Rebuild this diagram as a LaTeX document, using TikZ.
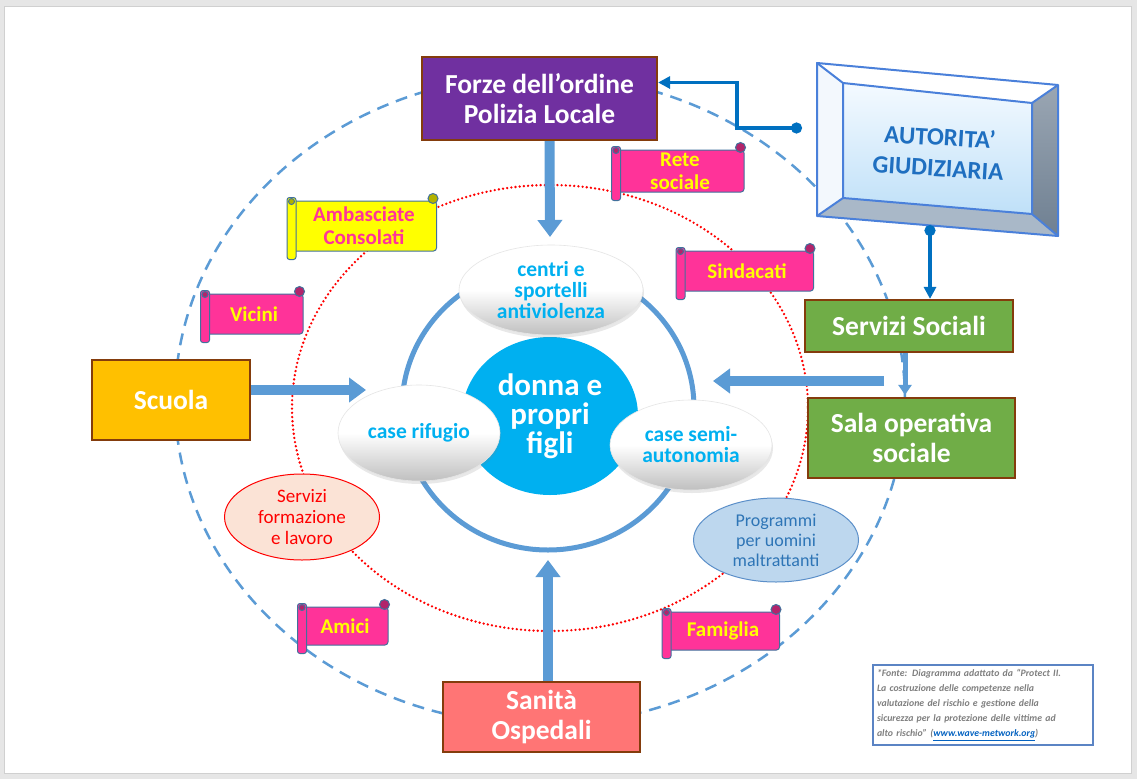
\documentclass[tikz,border=0pt]{standalone}
\usepackage{fontspec}
\setmainfont{Carlito}
\usetikzlibrary{arrows.meta,calc,shapes.geometric,shadows}

\definecolor{pagegray}{HTML}{E6E6E6}
\definecolor{pageline}{HTML}{D0D0D0}
\definecolor{dashblue}{HTML}{5B9BD5}
\definecolor{ringblue}{HTML}{5B9BD5}
\definecolor{cyanc}{HTML}{00B0F0}
\definecolor{purplec}{HTML}{7030A0}
\definecolor{brownc}{HTML}{843C0C}
\definecolor{orangec}{HTML}{FFC000}
\definecolor{greenc}{HTML}{70AD47}
\definecolor{salmonc}{HTML}{FF7575}
\definecolor{pinkc}{HTML}{FF3399}
\definecolor{yellowc}{HTML}{FFFF00}
\definecolor{scrollline}{HTML}{41719C}
\definecolor{connblue}{HTML}{0070C0}
\definecolor{autline}{HTML}{4A80DA}
\definecolor{auttext}{HTML}{1F6FC0}
\definecolor{peach}{HTML}{FBE3D6}
\definecolor{lightblue}{HTML}{BDD7EE}
\definecolor{progline}{HTML}{5B8FC9}
\definecolor{progtext}{HTML}{2E75B6}
\definecolor{notegray}{HTML}{7F7F7F}
\definecolor{linkblue}{HTML}{0563C1}
\definecolor{noteline}{HTML}{5B84C4}
\definecolor{facegrayA}{HTML}{9AA6B3}
\definecolor{facegrayB}{HTML}{6F8092}
\definecolor{facebottom}{HTML}{A9B8C8}
\definecolor{faceleft}{HTML}{F3F8FD}
\definecolor{innerTop}{HTML}{F4FAFF}
\definecolor{innerBot}{HTML}{BFE0F8}

\newcommand{\drawscroll}[8]{%
  \node[scrollbody, fill=#6, text=#7, minimum width=#4, minimum height=#5] (#1) at (#2,#3) {#8};
  \draw[scrolledge, fill=#6, rounded corners=2.5] ($(#1.north west)+(-4,-3)$) rectangle ($(#1.south west)+(5,8)$);
  \draw[scrolledge, fill=#6!70!black] ($(#1.north west)+(0.5,1)$) circle [radius=3];
  \draw[scrolledge, fill=#6!70!black] ($(#1.north east)+(-4,-2)$) circle [radius=5];
}

\begin{document}
\begin{tikzpicture}[x=1pt,y=-1pt,
  box/.style={rectangle, draw=brownc, line width=2.2, text=white,
    font=\bfseries\fontsize{27.5}{30}\selectfont, align=center, inner sep=0},
  oval/.style={ellipse, draw=black!10, line width=0.6, top color=white,
    bottom color=black!25, middle color=white, text=cyanc,
    font=\bfseries\fontsize{21.5}{21}\selectfont, align=center, inner sep=0,
    drop shadow={opacity=0.18, shadow xshift=1pt, shadow yshift=-3pt}},
  scrollbody/.style={rectangle, rounded corners=3, draw=scrollline, line width=1,
    font=\bfseries\fontsize{21}{23}\selectfont, align=center, inner sep=0},
  scrolledge/.style={draw=scrollline, line width=1},
  bigarrow/.style={draw=ringblue, line width=10, arrows={-Triangle[length=17pt,width=24pt]}},
  smallarrow/.style={draw=ringblue, line width=5, arrows={-Triangle[length=10pt,width=13pt]}},
  conn/.style={draw=connblue, line width=3.5, arrows={Circle[length=11pt]-Triangle[length=12pt,width=12pt]}},
  autedge/.style={draw=autline, line width=2, line join=round}
]
\useasboundingbox (0,0) rectangle (1137,779);
\fill[pagegray] (0,0) rectangle (1137,779);
\draw[pageline, line width=1.5, fill=white] (4.5,6.5) rectangle (1131.5,773.5);

% rings
\draw[dashblue, line width=2.5, dash pattern=on 12pt off 8pt] (540,400) ellipse [x radius=365, y radius=325];
\draw[red, line width=2.6, line cap=round, dash pattern=on 0pt off 4.2pt] (550,408) ellipse [x radius=258, y radius=223];
\draw[ringblue, line width=5] (548,408) ellipse [x radius=146, y radius=142];

% centre
\node[ellipse, fill=cyanc, minimum width=176, minimum height=158, inner xsep=-8, inner ysep=0,
  text=white, font=\bfseries\fontsize{31}{29}\selectfont, align=center] (donna) at (550,416) {donna e\\propri\\figli};

\node[oval, minimum width=184, minimum height=90] (centri) at (551,290) {centri e\\sportelli\\antiviolenza};
\node[oval, minimum width=162, minimum height=96] (rifugio) at (419,433) {case rifugio};
\node[oval, minimum width=162, minimum height=90] (semi) at (691,445) {case semi-\\autonomia};

\node[ellipse, draw=red, line width=1, fill=peach, text=red, font=\fontsize{19}{21}\selectfont,
  align=center, minimum width=155, minimum height=86, inner sep=-2] (formaz) at (302,517) {Servizi\\formazione\\e lavoro};
\node[ellipse, draw=progline, line width=1, fill=lightblue, text=progtext, font=\fontsize{18}{20}\selectfont,
  align=center, minimum width=165, minimum height=84, inner sep=-2] (progr) at (776,540) {Programmi\\per uomini\\maltrattanti};

% boxes
\node[box, fill=purplec, minimum width=235, minimum height=83] (forze) at (539.5,98.5) {Forze dell’ordine\\Polizia Locale};
\node[box, fill=orangec, minimum width=158, minimum height=80] (scuola) at (171,400) {Scuola};
\node[box, fill=greenc, minimum width=208, minimum height=52] (sersoc) at (909,326) {Servizi Sociali};
\node[box, fill=greenc, minimum width=207, minimum height=80] (salaop) at (911.5,438) {Sala operativa\\sociale};
\node[box, fill=salmonc, minimum width=197, minimum height=70] (sanita) at (541.5,717) {Sanità\\Ospedali};

% scrolls
\drawscroll{rete}{680}{171}{128}{42}{pinkc}{yellowc}{Rete\\sociale}
\drawscroll{amb}{364}{226}{145}{50}{yellowc}{pinkc}{Ambasciate\\Consolati}
\drawscroll{sind}{747}{271}{133}{40}{pinkc}{yellowc}{Sindacati}
\drawscroll{vicini}{254}{314}{98}{40}{pinkc}{yellowc}{Vicini}
\drawscroll{amici}{345}{626}{86}{38}{pinkc}{yellowc}{Amici}
\drawscroll{fam}{723}{631}{113}{38}{pinkc}{yellowc}{Famiglia}

% block arrows
\coordinate (arrN) at (550,237);
\draw[bigarrow] ([xshift=10]forze.south) -- (arrN);
\coordinate (arrW) at (366,390);
\draw[bigarrow] ([yshift=10]scuola.east) -- (arrW);
\coordinate (arrEs) at (884,381);
\coordinate (arrE) at (713,381);
\draw[bigarrow] (arrEs) -- (arrE);
\coordinate (arrS) at (548,560);
\draw[bigarrow] ([xshift=6.5]sanita.north) -- (arrS);
\draw[smallarrow, shorten >=2pt] ([xshift=-4]sersoc.south) -- ([xshift=-6.5]salaop.north);

% Autorita' bevel box
\coordinate (oTL) at (817,63);
\coordinate (oTR) at (1058,85);
\coordinate (oBR) at (1058,236);
\coordinate (oBL) at (817,216);
\coordinate (iTL) at (843,83);
\coordinate (iTR) at (1032,103);
\coordinate (iBR) at (1032,214);
\coordinate (iBL) at (843,198);
\fill[white] (oTL) -- (oTR) -- (iTR) -- (iTL) -- cycle;
\fill[faceleft] (oTL) -- (iTL) -- (iBL) -- (oBL) -- cycle;
\shade[top color=facegrayA, bottom color=facegrayB] (oTR) -- (oBR) -- (iBR) -- (iTR) -- cycle;
\fill[facebottom] (iBL) -- (iBR) -- (oBR) -- (oBL) -- cycle;
\shade[top color=innerTop, bottom color=innerBot] (iTL) -- (iTR) -- (iBR) -- (iBL) -- cycle;
\draw[autedge] (oTL) -- (oTR) -- (oBR) -- (oBL) -- cycle;
\draw[autedge] (iTL) -- (iTR) -- (iBR) -- (iBL) -- cycle;
\draw[autedge] (oTL) -- (iTL) (oTR) -- (iTR) (oBR) -- (iBR) (oBL) -- (iBL);
\node[rotate=-3.5, text=auttext, font=\bfseries\fontsize{25}{31}\selectfont, align=center] (aut) at (939,152) {AUTORITA’\\GIUDIZIARIA};

% connectors from Autorita'
\coordinate (autL) at (802,128);
\coordinate (autB) at (930,225);
\draw[conn] (autL) -- ++(-65,0) |- ([yshift=16]forze.east);
\draw[conn] (autB) -- (autB |- sersoc.north);

% footnote
\node[draw=noteline, line width=1.3, minimum width=220, minimum height=80, text width=212,
  align=left, inner xsep=4, inner ysep=0, text=notegray, font=\bfseries\itshape\fontsize{9.8}{15}\selectfont] (note) at (983,705)
  {*Fonte: Diagramma adattato da “Protect II.\\La costruzione delle competenze nella\\valutazione del rischio e gestione della\\sicurezza per la protezione delle vittime ad\\alto rischio” (\textcolor{linkblue}{\underline{www.wave-metwork.org}})};
\end{tikzpicture}
\end{document}
